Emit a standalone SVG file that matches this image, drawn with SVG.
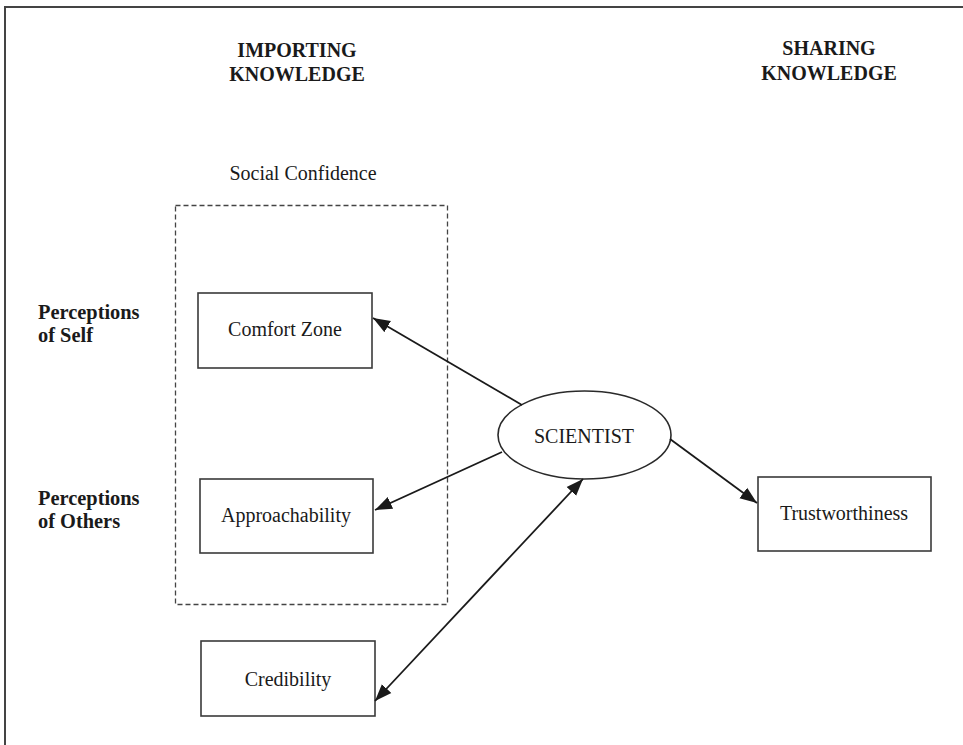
<svg xmlns="http://www.w3.org/2000/svg" width="963" height="745" viewBox="0 0 963 745">
<style>
text{font-family:"Liberation Serif","Times New Roman",serif;fill:#1a1a1a}
.h{font-weight:bold;font-size:20px;text-anchor:middle}
.side{font-weight:bold;font-size:20.4px}
.lbl{font-size:20px;text-anchor:middle}
.box{fill:#fff;stroke:#3a3a3a;stroke-width:1.6}
.conn{stroke:#1a1a1a;stroke-width:1.8;fill:none}
</style>
<defs>
<marker id="ah" markerUnits="userSpaceOnUse" markerWidth="18" markerHeight="14" refX="17" refY="7" orient="auto-start-reverse">
<path d="M0,0.5 L17,7 L0,13.5 Z" fill="#1a1a1a"/>
</marker>
</defs>
<rect width="963" height="745" fill="#fff"/>
<polyline points="5,745 5,7 963,7" fill="none" stroke="#444" stroke-width="2"/>
<g id="headings">
<text class="h" x="297" y="57">IMPORTING</text>
<text class="h" x="297" y="81">KNOWLEDGE</text>
<text class="h" x="829" y="55">SHARING</text>
<text class="h" x="829" y="80">KNOWLEDGE</text>
<text class="side" x="38" y="319">Perceptions</text>
<text class="side" x="38" y="342">of Self</text>
<text class="side" x="38" y="505">Perceptions</text>
<text class="side" x="38" y="528">of Others</text>
</g>
<g id="social-confidence">
<text class="lbl" x="303" y="180">Social Confidence</text>
<rect x="175.5" y="205.5" width="272" height="399" fill="none" stroke="#444" stroke-width="1.3" stroke-dasharray="5,3"/>
</g>
<g id="comfort-zone">
<rect class="box" x="198" y="293" width="174" height="75"/>
<text class="lbl" x="285" y="336">Comfort Zone</text>
</g>
<g id="approachability">
<rect class="box" x="200" y="479" width="173" height="74"/>
<text class="lbl" x="286" y="522">Approachability</text>
</g>
<g id="credibility">
<rect class="box" x="201" y="641" width="174" height="75"/>
<text class="lbl" x="288" y="686">Credibility</text>
</g>
<g id="trustworthiness">
<rect class="box" x="758" y="477" width="173" height="74"/>
<text class="lbl" x="844" y="520">Trustworthiness</text>
</g>
<g id="scientist">
<ellipse cx="584.5" cy="435" rx="86.5" ry="44" fill="#fff" stroke="#2a2a2a" stroke-width="1.6"/>
<text class="lbl" x="584" y="443">SCIENTIST</text>
</g>
<g id="connectors">
<line class="conn" x1="522" y1="405" x2="373" y2="318" marker-end="url(#ah)"/>
<line class="conn" x1="502" y1="452" x2="375" y2="510" marker-end="url(#ah)"/>
<line class="conn" x1="375" y1="701" x2="583" y2="479" marker-start="url(#ah)" marker-end="url(#ah)"/>
<line class="conn" x1="670" y1="439" x2="757" y2="503" marker-end="url(#ah)"/>
</g>
</svg>
